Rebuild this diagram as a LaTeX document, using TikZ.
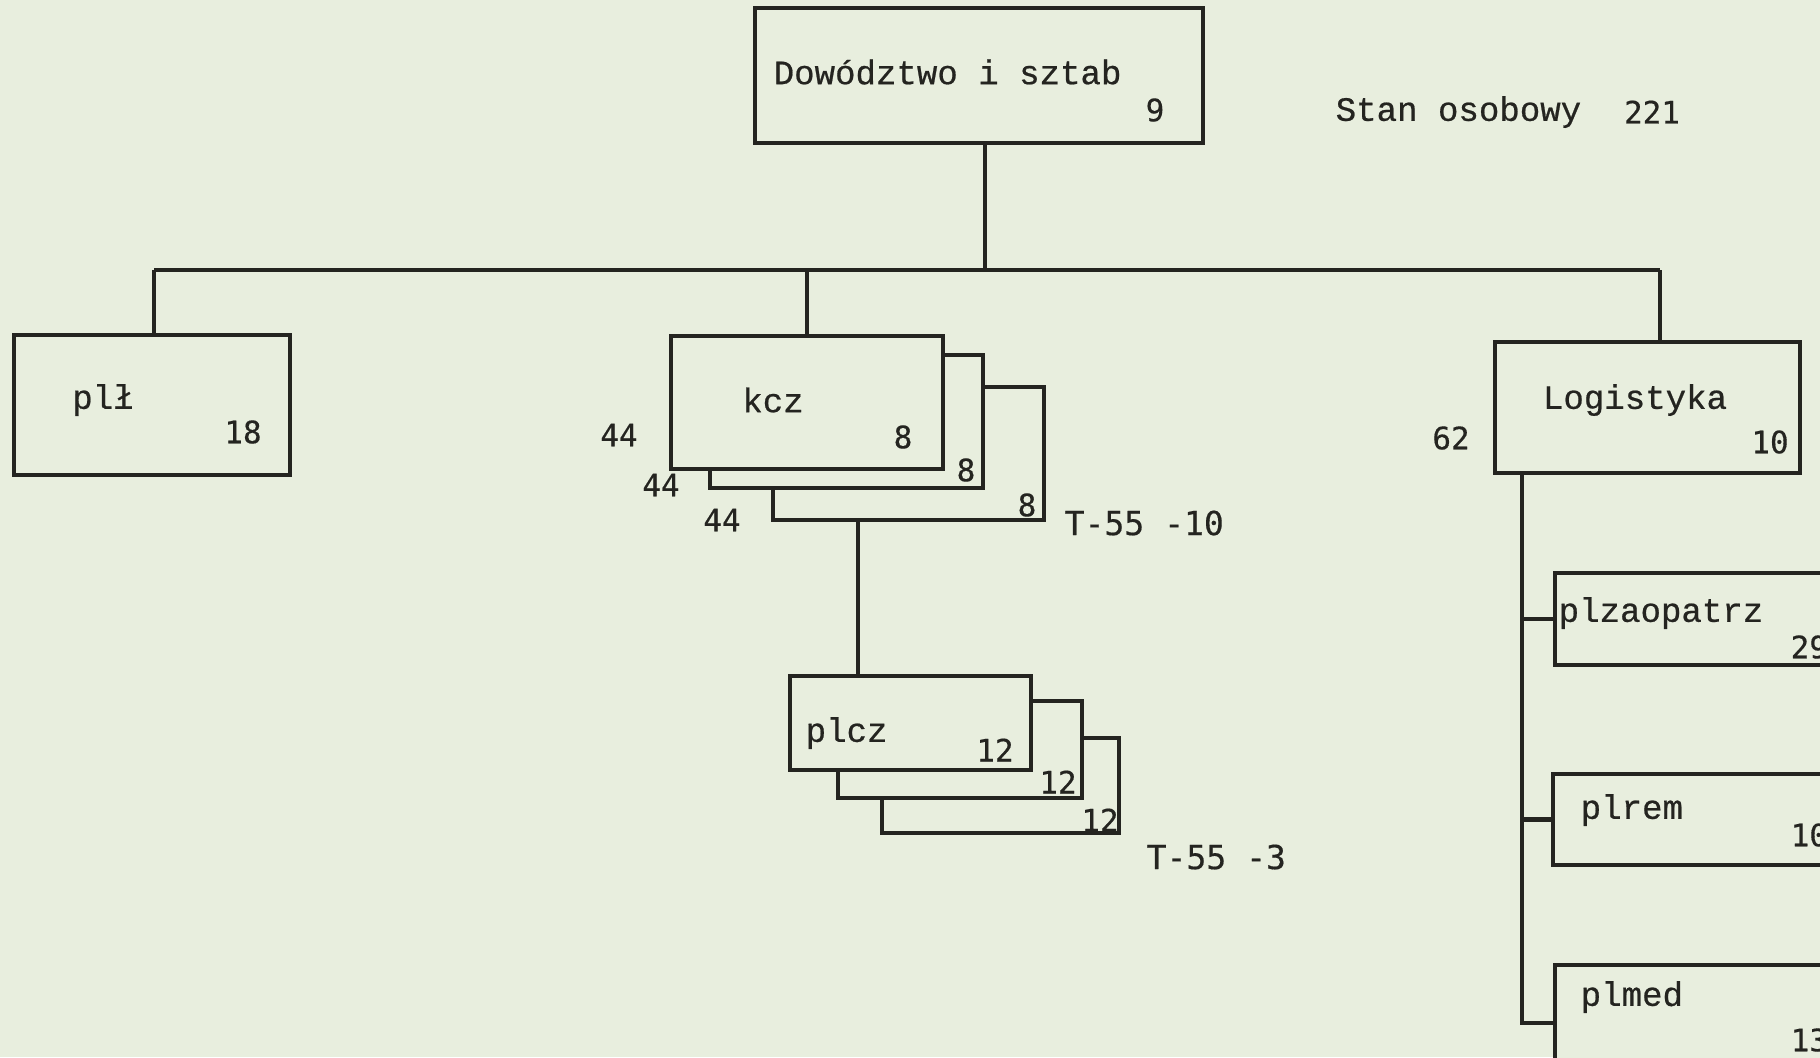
\documentclass[tikz,border=0pt]{standalone}
\usepackage{fontspec}
\setmonofont[FakeBold=0.6]{Liberation Mono}
\newfontfamily\digitfont[FakeBold=0.4]{DejaVu Sans Mono}
\usetikzlibrary{fit}
\definecolor{paper}{RGB}{232,238,222}
\definecolor{ink}{RGB}{36,36,32}

\begin{document}
\begin{tikzpicture}[x=0.1mm,y=-0.1mm,
  unit/.style={draw=ink,fill=paper,line width=1.2pt,inner sep=0pt},
  lbl/.style={font=\ttfamily\fontsize{9.7}{11}\selectfont,text=ink,inner sep=0pt},
  num/.style={font=\digitfont\fontsize{8.8}{10}\selectfont,text=ink,inner sep=0pt},
  tank/.style={font=\digitfont\fontsize{9.4}{10}\selectfont,text=ink,inner sep=0pt,anchor=west},
  link/.style={draw=ink,line width=1.2pt}]
\fill[paper] (0,0) rectangle (1820,1057);
\useasboundingbox (0,0) rectangle (1820,1057);
\clip (0,0) rectangle (1820,1057);
% top
\node[unit,fit={(755,8) (1203,143)}] (dow) {};
\node[lbl,anchor=west] (downame) at (773,72) {Dowództwo i sztab};
\node[num] (downum) at (1155,110) {9};
\node[lbl,anchor=west] (stan) at (1335,112) {Stan osobowy};
\node[num] (stannum) at (1652,112) {221};
% bus
\coordinate (busL) at (154,270); \coordinate (busR) at (1660,270);
\coordinate (dowtap) at (985,0);
\draw[link] (dow.south -| dowtap) -- (busL -| dowtap);
\draw[link] (busL) -- (busR);
% pl
\node[unit,fit={(14,335) (290,475)}] (pll) {};
\node[lbl] (pllname) at (103,400) {plł};
\node[num] (pllnum) at (243,432) {18};
\draw[link] (busL) -- (pll.north -| busL);
% kcz, three stacked
\node[unit,fit={(773,387) (1044,520)}] (kcz3) {};
\node[unit,fit={(710,355) (983,488)}] (kcz2) {};
\node[unit,fit={(671,336) (943,469)}] (kcz) {};
\node[lbl] (kczname) at (773,400) {kcz};
\node[num] (kcznum) at (903,437) {8};
\node[num] (kcz2num) at (966,470) {8};
\node[num] (kcz3num) at (1027,505) {8};
\node[num] (kczpers) at (619,435) {44};
\node[num] (kcz2pers) at (661,485) {44};
\node[num] (kcz3pers) at (722,520) {44};
\node[tank] (kcztank) at (1064,523) {T-55 -10};
\draw[link] (kcz.north) -- (kcz.north |- busL);
% plcz, three stacked
\node[unit,fit={(882,738) (1119,833)}] (plcz3) {};
\node[unit,fit={(838,701) (1082,798)}] (plcz2) {};
\node[unit,fit={(790,676) (1031,770)}] (plcz) {};
\node[lbl,anchor=west] (plczname) at (805,733) {plcz};
\node[num] (plcznum) at (995,750) {12};
\node[num] (plcz2num) at (1058,782) {12};
\node[num] (plcz3num) at (1100,820) {12};
\node[tank] (plcztank) at (1146,857) {T-55 -3};
\coordinate (drop) at (858,600);
\draw[link] (kcz3.south -| drop) -- (plcz.north -| drop);
% logistyka
\node[unit,fit={(1495,342) (1800,473)}] (log) {};
\node[lbl] (logname) at (1635,400) {Logistyka};
\node[num] (lognum) at (1770,442) {10};
\node[num] (logpers) at (1451,438) {62};
\draw[link] (busR) -- (log.north -| busR);
\node[unit,fit={(1555,573) (1880,665)}] (plzaop) {};
\node[lbl,anchor=west] (plzaopname) at (1558,613) {plzaopatrz};
\node[num,anchor=west] (plzaopnum) at (1790,647) {29};
\node[unit,fit={(1553,774) (1880,865)}] (plrem) {};
\node[lbl,anchor=west] (plremname) at (1580,810) {plrem};
\node[num,anchor=west] (plremnum) at (1790,835) {10};
\node[unit,fit={(1555,965) (1880,1081)}] (plmed) {};
\node[lbl,anchor=west] (plmedname) at (1580,997) {plmed};
\node[num,anchor=west] (plmednum) at (1790,1040) {13};
\coordinate (spine) at (1522,0);
\draw[link] (log.south -| spine) |- (plmed.west);
\draw[link] (plzaop.west -| spine) -- (plzaop.west);
\draw[link] (plrem.west -| spine) -- (plrem.west);
\end{tikzpicture}
\end{document}
